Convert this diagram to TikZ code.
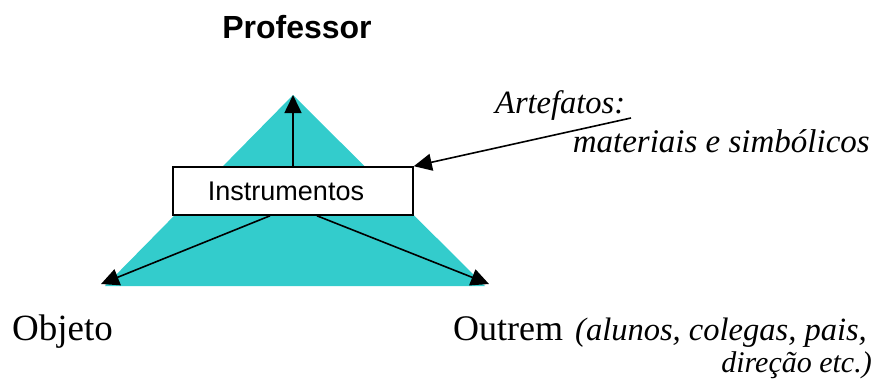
\documentclass[tikz,border=0pt]{standalone}
\usepackage{fontspec}
\setmainfont{Liberation Serif}
\setsansfont{Liberation Sans}
\usetikzlibrary{arrows.meta}
\definecolor{turq}{HTML}{33CCCC}
\tikzset{
  arr/.style={-{Triangle[length=18pt,width=17pt]}, line width=1.6pt},
  sertext/.style={inner sep=0pt, font=\fontsize{37}{42}\selectfont},
  itext/.style={inner sep=0pt, font=\fontsize{32.5}{36}\selectfont\itshape},
}
\begin{document}
\begin{tikzpicture}[x=1pt,y=-1pt]
\useasboundingbox (0,0) rectangle (878,380);
\coordinate (apex) at (293,95);
\coordinate (bl) at (105,286);
\coordinate (br) at (485,286);
\fill[turq] (apex) -- (br) -- (bl) -- cycle;
\node[draw, line width=1.6pt, fill=white, minimum width=240pt, minimum height=48pt, inner sep=0pt,
      font=\sffamily\fontsize{27}{30}\selectfont] (instr) at (293,191) {\hspace*{-14pt}Instrumentos};
\coordinate (tipl) at (101,284);
\coordinate (tipr) at (489,284);
\draw[arr] (instr.north) -- (apex);
\draw[arr] ([xshift=-23pt]instr.south) -- (tipl);
\draw[arr] ([xshift=24pt]instr.south) -- (tipr);
\node[anchor=base, inner sep=0pt, font=\sffamily\bfseries\fontsize{32}{36}\selectfont] (prof) at (297,38) {Professor};
\node[itext, anchor=base west] (art) at (495,113) {Artefatos:};
\node[itext, anchor=base east, font=\fontsize{33}{36}\selectfont\itshape] (mat) at (870,152) {materiais e simbólicos};
\coordinate (artstart) at (631,118);
\draw[arr] (artstart) -- (instr.north east);
\node[sertext, anchor=base west] (obj) at (12,340) {Objeto};
\node[sertext, anchor=base west, font=\fontsize{36}{40}\selectfont] (out) at (453,340) {Outrem};
\node[itext, anchor=base east] (alu) at (867,340) {(alunos, colegas, pais,};
\node[itext, anchor=base east, font=\fontsize{30}{34}\selectfont\itshape] (dir) at (872,372) {direção etc.)};
\end{tikzpicture}
\end{document}
